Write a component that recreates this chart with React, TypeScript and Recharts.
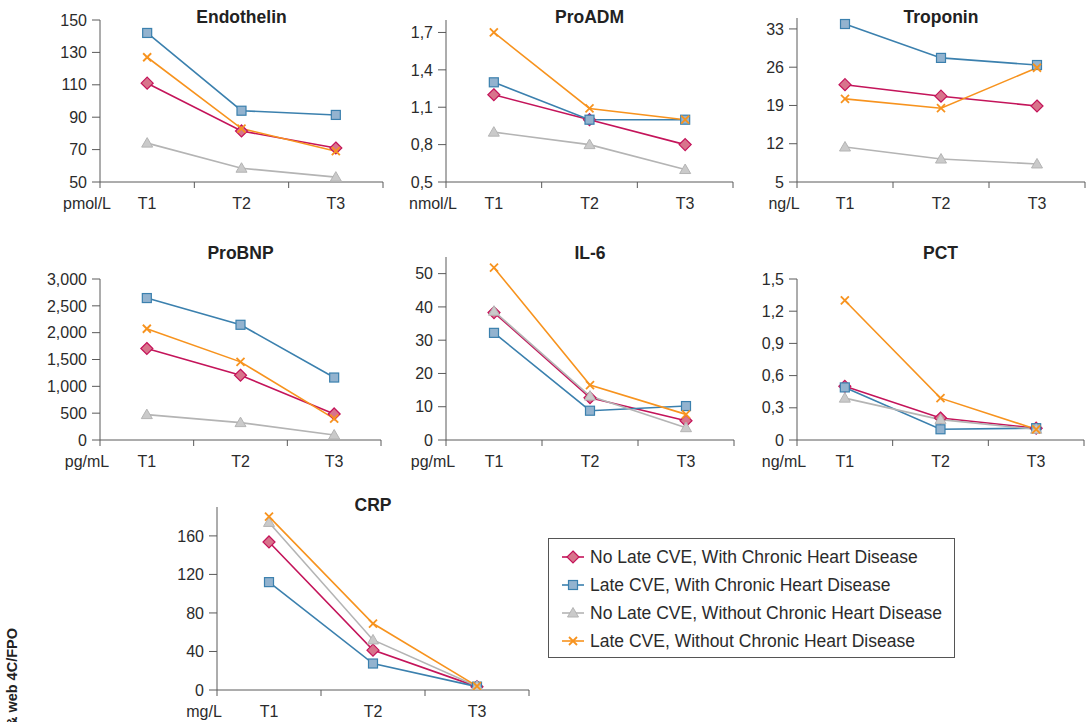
import { LineChart, Line, XAxis, YAxis } from 'recharts';

const FONT = '"Liberation Sans", Arial, Helvetica, sans-serif';
const AXIS = '#5a5a5a';
const TEXT = '#2b2b2b';

const times = ['T1', 'T2', 'T3'];

// group order: diamond, square, triangle, cross
const groupNames = [
  'No Late CVE, With Chronic Heart Disease',
  'Late CVE, With Chronic Heart Disease',
  'No Late CVE, Without Chronic Heart Disease',
  'Late CVE, Without Chronic Heart Disease',
];

// one row per group, one value per time point
const endothelin = [
  [111, 81.5, 71],
  [142, 94, 91.4],
  [74, 58.5, 53],
  [127, 83, 69],
];
const proAdm = [
  [1.2, 1.0, 0.8],
  [1.3, 1.0, 1.0],
  [0.9, 0.8, 0.6],
  [1.7, 1.09, 1.0],
];
const troponin = [
  [22.8, 20.7, 18.9],
  [33.9, 27.7, 26.4],
  [11.4, 9.2, 8.3],
  [20.2, 18.5, 25.9],
];
const proBnp = [
  [1705, 1207, 485],
  [2645, 2147, 1164],
  [473, 324, 93],
  [2073, 1456, 398],
];
const il6 = [
  [38.3, 12.7, 5.8],
  [32.2, 8.8, 10.2],
  [38.7, 13.2, 3.7],
  [51.8, 16.5, 7.7],
];
const pct = [
  [0.5, 0.205, 0.11],
  [0.49, 0.1, 0.11],
  [0.39, 0.19, 0.1],
  [1.3, 0.39, 0.1],
];
const crp = [
  [153.7, 41.4, 3.5],
  [112, 27.5, 3.5],
  [174, 52, 4],
  [180, 69, 4],
];

const endothelinTicks = [50, 70, 90, 110, 130, 150];
const proAdmTicks = [0.5, 0.8, 1.1, 1.4, 1.7];
const troponinTicks = [5, 12, 19, 26, 33];
const proBnpTicks = [0, 500, 1000, 1500, 2000, 2500, 3000];
const il6Ticks = [0, 10, 20, 30, 40, 50];
const pctTicks = [0, 0.3, 0.6, 0.9, 1.2, 1.5];
const crpTicks = [0, 40, 80, 120, 160];

const comma = (v: number) => (v === 0 ? '0' : v.toFixed(1).replace('.', ','));
const thousands = (v: number) => v.toLocaleString('en-US');
const plain = (v: number) => String(v);

type Shape = 'diamond' | 'square' | 'triangle' | 'cross';

const styles: { color: string; fill: string; shape: Shape }[] = [
  { color: '#c4145a', fill: '#d8748c', shape: 'diamond' },
  { color: '#3b80ae', fill: '#93b3cf', shape: 'square' },
  { color: '#b4b4b4', fill: '#cacaca', shape: 'triangle' },
  { color: '#f7931e', fill: 'none', shape: 'cross' },
];

function Marker({ cx, cy, shape, color, fill }: { cx: number; cy: number; shape: Shape; color: string; fill: string }) {
  if (cx == null || cy == null) return null;
  if (shape === 'diamond') {
    const r = 6;
    return <path d={`M${cx},${cy - r}L${cx + r},${cy}L${cx},${cy + r}L${cx - r},${cy}Z`} fill={fill} stroke={color} strokeWidth={1.2} />;
  }
  if (shape === 'square') {
    const r = 4.5;
    return <rect x={cx - r} y={cy - r} width={r * 2} height={r * 2} fill={fill} stroke={color} strokeWidth={1.2} />;
  }
  if (shape === 'triangle') {
    return <path d={`M${cx},${cy - 5.5}L${cx + 5.5},${cy + 4}L${cx - 5.5},${cy + 4}Z`} fill={fill} stroke={color} strokeWidth={1} />;
  }
  const r = 4;
  return (
    <g stroke={color} strokeWidth={1.8}>
      <line x1={cx - r} y1={cy - r} x2={cx + r} y2={cy + r} />
      <line x1={cx - r} y1={cy + r} x2={cx + r} y2={cy - r} />
    </g>
  );
}

// category labels sit between the boundary tick marks; the unit goes under the y axis
function CatTick(props: any) {
  const { x, y, payload, unit } = props;
  const v = payload.value as number;
  const textStyle = { fill: TEXT, fontSize: 16, fontFamily: FONT };
  if (Number.isInteger(v)) {
    return (
      <text x={x} y={y + 27} textAnchor="middle" style={textStyle}>
        {times[v - 1]}
      </text>
    );
  }
  return (
    <g>
      <line x1={x} x2={x} y1={y} y2={y + 6} stroke={AXIS} strokeWidth={1} />
      {v === 0.5 && (
        <text x={x - 13} y={y + 27} textAnchor="middle" style={textStyle}>
          {unit}
        </text>
      )}
    </g>
  );
}

type PanelDef = {
  title: string;
  unit: string;
  values: number[][];
  domain: [number, number];
  ticks: number[];
  fmt: (v: number) => string;
  left: number;
  right: number;
  top: number;
  bottom: number;
  titleY: number;
};

const panels: PanelDef[] = [
  { title: 'Endothelin', unit: 'pmol/L', values: endothelin, domain: [50, 150], ticks: endothelinTicks, fmt: plain, left: 100, right: 383, top: 20, bottom: 182, titleY: 23 },
  { title: 'ProADM', unit: 'nmol/L', values: proAdm, domain: [0.5, 1.8], ticks: proAdmTicks, fmt: comma, left: 446, right: 733, top: 20, bottom: 182, titleY: 23 },
  { title: 'Troponin', unit: 'ng/L', values: troponin, domain: [5, 35], ticks: troponinTicks, fmt: plain, left: 797, right: 1085, top: 18, bottom: 182, titleY: 23 },
  { title: 'ProBNP', unit: 'pg/mL', values: proBnp, domain: [0, 3000], ticks: proBnpTicks, fmt: thousands, left: 100, right: 381, top: 279, bottom: 440, titleY: 259 },
  { title: 'IL-6', unit: 'pg/mL', values: il6, domain: [0, 55], ticks: il6Ticks, fmt: plain, left: 446, right: 734, top: 257, bottom: 440, titleY: 259 },
  { title: 'PCT', unit: 'ng/mL', values: pct, domain: [0, 1.5], ticks: pctTicks, fmt: comma, left: 797, right: 1084, top: 279, bottom: 440, titleY: 259 },
  { title: 'CRP', unit: 'mg/L', values: crp, domain: [0, 190], ticks: crpTicks, fmt: plain, left: 217, right: 529, top: 507, bottom: 690, titleY: 511 },
];

function Panel({ p }: { p: PanelDef }) {
  const yW = 70;
  const padTop = 8;
  const padRight = 6;
  const xH = 40;
  const width = p.right - p.left + yW + padRight;
  const height = p.bottom - p.top + padTop + xH;
  const data = times.map((t, i) => {
    const row: Record<string, number | string> = { x: i + 1, t };
    p.values.forEach((vals, s) => {
      row['s' + s] = vals[i];
    });
    return row;
  });

  return (
    <div style={{ position: 'absolute', left: p.left - yW, top: p.top - padTop, width, height }}>
      <LineChart width={width} height={height} data={data} margin={{ top: padTop, right: padRight, bottom: 0, left: 0 }}>
        <XAxis
          dataKey="x"
          type="number"
          domain={[0.5, 3.5]}
          ticks={[0.5, 1, 1.5, 2, 2.5, 3, 3.5]}
          interval={0}
          height={xH}
          tickLine={false}
          tickSize={0}
          tickMargin={0}
          stroke={AXIS}
          tick={<CatTick unit={p.unit} />}
          allowDataOverflow
        />
        <YAxis
          type="number"
          domain={p.domain}
          ticks={p.ticks}
          interval={0}
          width={yW}
          tickSize={8}
          tickMargin={5}
          stroke={AXIS}
          tick={{ fill: TEXT, fontSize: 16, fontFamily: FONT }}
          tickFormatter={p.fmt}
          allowDataOverflow
        />
        {styles.map((s, i) => (
          <Line
            key={i}
            dataKey={'s' + i}
            name={groupNames[i]}
            stroke={s.color}
            strokeWidth={1.6}
            dot={(d: any) => <Marker key={`${i}-${d.index}`} cx={d.cx} cy={d.cy} shape={s.shape} color={s.color} fill={s.fill} />}
            activeDot={false}
            isAnimationActive={false}
          />
        ))}
      </LineChart>
    </div>
  );
}

function LegendBox() {
  return (
    <div
      style={{
        position: 'absolute',
        left: 548,
        top: 538,
        width: 405,
        height: 118,
        border: '1px solid #555',
        fontFamily: FONT,
        fontSize: 17.5,
        color: TEXT,
      }}
    >
      {styles.map((s, i) => (
        <div key={i} style={{ position: 'absolute', left: 12, top: 6 + i * 28, height: 24, display: 'flex', alignItems: 'center' }}>
          <svg width={24} height={24} style={{ marginRight: 5 }}>
            <line x1={1} x2={23} y1={12} y2={12} stroke={s.color} strokeWidth={1.6} />
            <Marker cx={12} cy={12} shape={s.shape} color={s.color} fill={s.fill} />
          </svg>
          <span style={{ whiteSpace: 'nowrap' }}>{groupNames[i]}</span>
        </div>
      ))}
    </div>
  );
}

export default function App() {
  return (
    <div style={{ position: 'absolute', left: 0, top: 0, width: 1087, height: 722, overflow: 'hidden', background: '#fff' }}>
      {panels.map((p) => (
        <Panel key={p.title} p={p} />
      ))}
      <svg width={1087} height={722} style={{ position: 'absolute', left: 0, top: 0, pointerEvents: 'none' }}>
        {panels.map((p) => (
          <text
            key={p.title}
            x={(p.left + p.right) / 2}
            y={p.titleY}
            textAnchor="middle"
            style={{ fontFamily: FONT, fontSize: 17.5, fontWeight: 'bold', fill: '#222' }}
          >
            {p.title}
          </text>
        ))}
        <text
          transform="translate(17, 628) rotate(-90)"
          textAnchor="end"
          style={{ fontFamily: FONT, fontSize: 14.5, fontWeight: 'bold', fill: '#222' }}
        >
          Print &amp; web 4C/FPO
        </text>
      </svg>
      <LegendBox />
    </div>
  );
}
